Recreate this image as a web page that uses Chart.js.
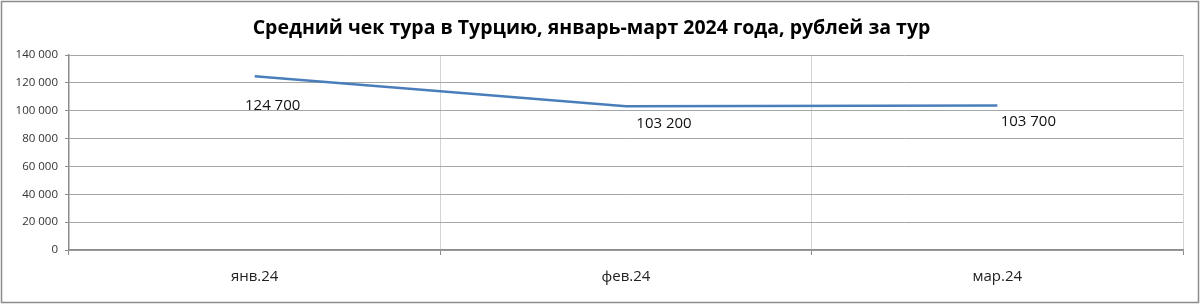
<!DOCTYPE html>
<html>
<head>
<meta charset="utf-8">
<script src="https://cdn.jsdelivr.net/npm/chart.js@4/dist/chart.umd.min.js"></script>
<style>
    body { margin: 0; background: #fff; }
    #wrap { width: 1200px; height: 305px; }
</style>
</head>
<body>
<div id="wrap"><canvas id="tourChart" width="1200" height="305"></canvas></div>
<script>
const months = ['янв.24', 'фев.24', 'мар.24'];
const avgCheck = [124700, 103200, 103700];
const chartTitle = 'Средний чек тура в Турцию, январь-март 2024 года, рублей за тур';

function fmt(v) {
    return String(v).replace(/\B(?=(\d{3})+(?!\d))/g, ' ');
}

// labels under the points + outer frame
const extras = {
    id: 'extras',
    afterDatasetsDraw(chart, args, opts) {
        const ctx = chart.ctx;
        const meta = chart.getDatasetMeta(0);
        ctx.save();
        ctx.font = '15px "Open Sans", sans-serif';
        ctx.fillStyle = '#111';
        ctx.textAlign = 'center';
        ctx.textBaseline = 'middle';
        meta.data.forEach(function (pt, i) {
            const off = opts.offsets[i];
            ctx.fillText(fmt(avgCheck[i]), pt.x + off[0], pt.y + off[1]);
        });
        ctx.restore();
    },
    afterDraw(chart) {
        const ctx = chart.ctx;
        ctx.save();
        ctx.strokeStyle = '#8c8c8c';
        ctx.lineWidth = 1.5;
        ctx.strokeRect(1.5, 1.5, 1197, 301);
        ctx.restore();
    }
};

new Chart(document.getElementById('tourChart'), {
    type: 'line',
    data: {
        labels: months,
        datasets: [{
            data: avgCheck,
            borderColor: '#4a7ebb',
            borderWidth: 2.5,
            pointRadius: 0,
            tension: 0,
            fill: false
        }]
    },
    options: {
        responsive: false,
        animation: false,
        layout: { padding: { left: 0, right: 17, top: 0, bottom: 0 } },
        plugins: {
            legend: { display: false },
            tooltip: { enabled: false },
            title: {
                display: true,
                text: chartTitle,
                color: '#000',
                font: { family: '"Open Sans", sans-serif', size: 19.5, weight: 'bold', lineHeight: 1.2 },
                padding: { top: 17, bottom: 14.6 }
            },
            extras: { offsets: [[18, 29], [38, 17], [31, 16]] }
        },
        scales: {
            x: {
                offset: true,
                grid: {
                    offset: true,
                    color: '#d4d4d4',
                    tickColor: '#8c8c8c',
                    tickLength: 5
                },
                border: { color: '#8c8c8c', width: 1.5 },
                ticks: {
                    color: '#222',
                    font: { family: '"Open Sans", sans-serif', size: 15 },
                    padding: 13
                },
                afterFit(scale) { scale.height = 55; }
            },
            y: {
                min: 0,
                max: 140000,
                grid: {
                    color: '#a6a6a6',
                    tickColor: '#8c8c8c',
                    tickLength: 4
                },
                border: { color: '#8c8c8c', width: 1.5 },
                ticks: {
                    stepSize: 20000,
                    color: '#333',
                    font: { family: '"Open Sans", sans-serif', size: 11.5 },
                    padding: 7,
                    callback: function (v) { return fmt(v); }
                },
                afterFit(scale) { scale.width = 69; }
            }
        }
    },
    plugins: [extras]
});
</script>
</body>
</html>
